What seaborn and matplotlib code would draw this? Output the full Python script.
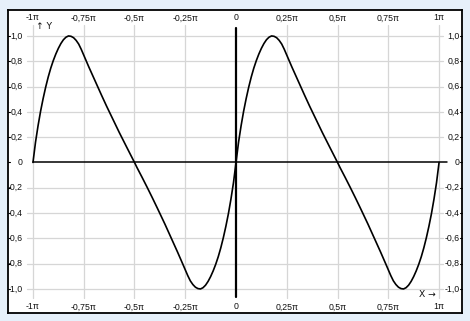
import numpy as np
import pandas as pd
import matplotlib
matplotlib.use("Agg")
import matplotlib.pyplot as plt
import seaborn as sns

sns.set_style("white")
plt.rcParams['font.family'] = ['Liberation Sans', 'DejaVu Sans']

# x positions in multiples of pi (sampling grid of the curve, step 0.0125 pi)
x_pi = np.linspace(-1.0, 1.0, 161)

# y values, piece by piece
y_seg1 = [0.0, 0.16, 0.29, 0.405, 0.505, 0.595, 0.675, 0.745, 0.805, 0.857,
          0.902, 0.94, 0.97, 0.99, 1.0, 0.997, 0.986, 0.965, 0.936, 0.895,
          0.848, 0.802, 0.755, 0.71, 0.665, 0.62, 0.576, 0.532, 0.488, 0.445,
          0.403, 0.361, 0.319, 0.278, 0.237, 0.197, 0.157, 0.118, 0.079, 0.041,
          0.0]                                   # -1pi .. -0.5pi
y_seg2 = [-0.041, -0.079, -0.118, -0.157, -0.197, -0.237, -0.278, -0.319, -0.361, -0.403,
          -0.445, -0.488, -0.532, -0.576, -0.62, -0.665, -0.71, -0.755, -0.802, -0.848,
          -0.895, -0.936, -0.965, -0.986, -0.997, -1.0, -0.99, -0.97, -0.94, -0.902,
          -0.857, -0.805, -0.745, -0.675, -0.595, -0.505, -0.405, -0.29, -0.16, 0.0]   # .. 0
y_seg3 = [0.16, 0.29, 0.405, 0.505, 0.595, 0.675, 0.745, 0.805, 0.857,
          0.902, 0.94, 0.97, 0.99, 1.0, 0.997, 0.986, 0.965, 0.936, 0.895,
          0.848, 0.802, 0.755, 0.71, 0.665, 0.62, 0.576, 0.532, 0.488, 0.445,
          0.403, 0.361, 0.319, 0.278, 0.237, 0.197, 0.157, 0.118, 0.079, 0.041,
          0.0]                                   # .. 0.5pi
y_seg4 = [-0.041, -0.079, -0.118, -0.157, -0.197, -0.237, -0.278, -0.319, -0.361, -0.403,
          -0.445, -0.488, -0.532, -0.576, -0.62, -0.665, -0.71, -0.755, -0.802, -0.848,
          -0.895, -0.936, -0.965, -0.986, -0.997, -1.0, -0.99, -0.97, -0.94, -0.902,
          -0.857, -0.805, -0.745, -0.675, -0.595, -0.505, -0.405, -0.29, -0.16, 0.0]   # .. 1pi

x_ticks = [-1.0, -0.75, -0.5, -0.25, 0.0, 0.25, 0.5, 0.75, 1.0]
x_tick_labels = ["-1π", "-0,75π", "-0,5π", "-0,25π", "0", "0,25π", "0,5π", "0,75π", "1π"]
y_ticks = [1.0, 0.8, 0.6, 0.4, 0.2, 0.0, -0.2, -0.4, -0.6, -0.8, -1.0]
y_tick_labels = ["1,0", "0,8", "0,6", "0,4", "0,2", "0", "-0,2", "-0,4", "-0,6", "-0,8", "-1,0"]

df = pd.DataFrame({"x": x_pi, "y": y_seg1 + y_seg2 + y_seg3 + y_seg4})

W, H = 470, 321
fig = plt.figure(figsize=(W / 100, H / 100), dpi=100, facecolor="#e6f0fa")
ax = fig.add_axes([8 / W, (H - 313) / H, (462 - 8) / W, (313 - 10) / H])
ax.set_facecolor("white")
ax.set_xlim(-1.123, 1.113)
ax.set_ylim(-1.19, 1.205)
ax.set_xticks([])
ax.set_yticks([])
for s in ax.spines.values():
    s.set_color("black")
    s.set_linewidth(1.3)
    s.set_zorder(1)

grid_c = "#d6d6d6"
for v in x_ticks:
    if v != 0:
        ax.plot([v, v], [-1.07, 1.09], color=grid_c, lw=0.9, zorder=1)
for h in y_ticks:
    if h != 0:
        ax.plot([-1.03, 1.02], [h, h], color=grid_c, lw=0.9, zorder=1)

# main axes lines
ax.plot([-1.0, 1.04], [0, 0], color="black", lw=1.1, zorder=2)
ax.plot([0, 0], [-1.06, 1.06], color="black", lw=1.6, zorder=2)

sns.lineplot(data=df, x="x", y="y", ax=ax, color="black", lw=1.2,
             estimator=None, sort=False, zorder=3)
ax.set_xlabel("")
ax.set_ylabel("")

fs = 6.3
tc = "#111111"
for v, lab in zip(x_ticks, x_tick_labels):
    ax.text(v, 1.142, lab, ha="center", va="center", fontsize=fs, color=tc, zorder=5)
    ax.text(v, -1.142, lab, ha="center", va="center", fontsize=fs, color=tc, zorder=5)
for h, lab in zip(y_ticks, y_tick_labels):
    ax.text(-1.05, h, lab, ha="right", va="center", fontsize=fs, color=tc, zorder=5)
    ax.text(1.103, h, lab, ha="right", va="center", fontsize=fs, color=tc, zorder=5)
    ax.plot([-1.123, -1.113], [h, h], color="black", lw=0.8, clip_on=False)
    ax.plot([1.103, 1.113], [h, h], color="black", lw=0.8, clip_on=False)

ax.text(-0.985, 1.075, "↑ Y", ha="left", va="center", fontsize=fs + 0.3, color=tc,
        family=['DejaVu Sans'])
ax.text(0.985, -1.04, "X →", ha="right", va="center", fontsize=fs + 0.3, color=tc,
        family=['DejaVu Sans'])

fig.savefig("out.png", dpi=100, facecolor=fig.get_facecolor())
